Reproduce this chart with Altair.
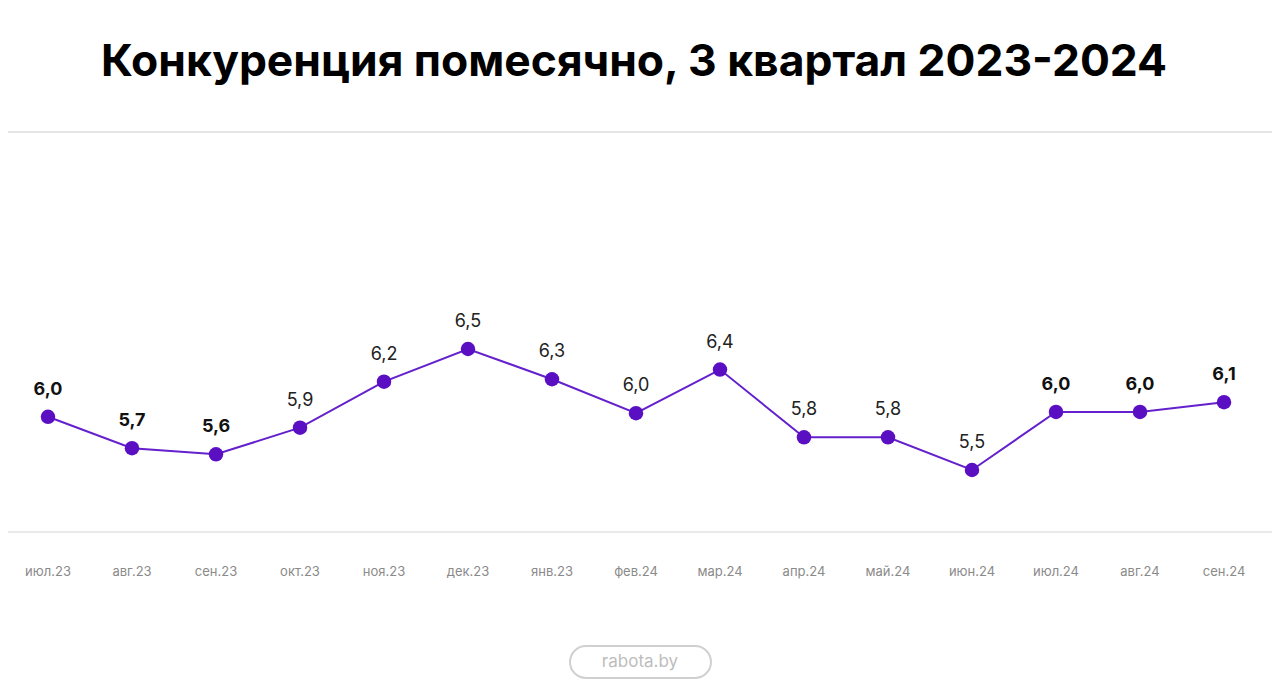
import altair as alt
import pandas as pd

months = ["июл.23", "авг.23", "сен.23", "окт.23", "ноя.23", "дек.23", "янв.23", "фев.24",
          "мар.24", "апр.24", "май.24", "июн.24", "июл.24", "авг.24", "сен.24"]
# plotted positions and the printed labels
values = [5.94, 5.68, 5.63, 5.85, 6.23, 6.50, 6.25, 5.97, 6.33, 5.77, 5.77, 5.50, 5.98, 5.98, 6.06]
labels = ["6,0", "5,7", "5,6", "5,9", "6,2", "6,5", "6,3", "6,0", "6,4", "5,8", "5,8", "5,5", "6,0", "6,0", "6,1"]
bold = [True, True, True, False, False, False, False, False, False, False, False, False, True, True, True]

title_text = "Конкуренция помесячно, 3 квартал 2023-2024"
footer_text = "rabota.by"

W, H = 1264, 684
FONT = "Inter"
PURPLE = "#5a10c2"

df = pd.DataFrame({"month": months, "value": values, "label": labels, "bold": bold})

xs = alt.X("month:N", sort=months, scale=alt.Scale(type="point", range=[40, 1216], padding=0), axis=None)
ys = alt.Y("value:Q", scale=alt.Scale(domain=[5.5, 6.5], range=[462, 341], zero=False, nice=False), axis=None)

base = alt.Chart(df)

line = base.mark_line(color="#6420cc", strokeWidth=2).encode(x=xs, y=ys)
pts = base.mark_circle(color=PURPLE, opacity=1, size=210).encode(x=xs, y=ys)
lab_bold = base.transform_filter("datum.bold").mark_text(
    font=FONT, fontSize=18, fontWeight="bold", color="#111111", dy=-27, baseline="middle"
).encode(x=xs, y=ys, text="label:N")
lab_reg = base.transform_filter("!datum.bold").mark_text(
    font=FONT, fontSize=18, fontWeight="normal", color="#222222", dy=-27, baseline="middle"
).encode(x=xs, y=ys, text="label:N")
xlab = base.mark_text(font=FONT, fontSize=13, color="#8a8a8a", baseline="middle").encode(
    x=xs, y=alt.value(564), text="month:N")

one = alt.Chart(pd.DataFrame({"t": [title_text], "f": [footer_text]}))
rule_top = one.mark_rule(color="#dddddd", strokeWidth=1.5).encode(
    x=alt.value(0), x2=alt.value(W), y=alt.value(124))
rule_bot = one.mark_rule(color="#e2e2e2", strokeWidth=1.5).encode(
    x=alt.value(0), x2=alt.value(W), y=alt.value(524))
title = one.mark_text(font=FONT, fontSize=44.4, fontWeight="bold", color="#000000",
                      baseline="alphabetic", align="center").encode(
    x=alt.value(626), y=alt.value(68), text="t:N")
badge = one.mark_rect(fill="white", stroke="#d0d0d0", strokeWidth=2, cornerRadius=16).encode(
    x=alt.value(562), x2=alt.value(703), y=alt.value(638), y2=alt.value(670))
footer = one.mark_text(font=FONT, fontSize=17, color="#bdbdbd", baseline="middle", align="center").encode(
    x=alt.value(632), y=alt.value(654), text="f:N")

chart = alt.layer(rule_top, rule_bot, title, badge, footer, line, pts, lab_bold, lab_reg, xlab).properties(
    width=W, height=H, autosize=alt.AutoSizeParams(type="none"), padding=0, background="white"
).configure_view(stroke=None)

chart.save("out.html", embed_options={"renderer": "svg", "actions": False})
